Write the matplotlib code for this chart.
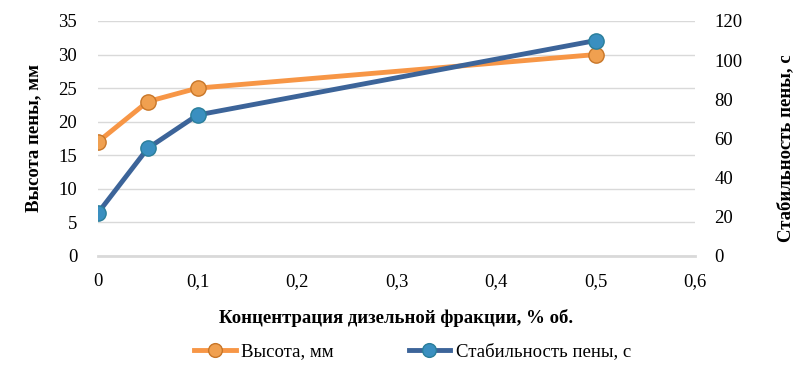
import matplotlib.pyplot as plt
import matplotlib.ticker as mticker

# data
conc = [0, 0.05, 0.1, 0.5]
height = [17, 23, 25, 30]
stability = [22, 55, 72, 110]

plt.rcParams['font.family'] = ['Liberation Serif', 'DejaVu Serif']

fig = plt.figure(figsize=(8.09, 3.78), dpi=100)
ax = fig.add_axes([98 / 809, 1 - 256 / 378, (695 - 98) / 809, (256 - 21) / 378])
ax2 = ax.twinx()

orange = '#F79646'
blue = '#3C6499'

l1, = ax.plot(conc, height, color=orange, lw=3.5, marker='o', ms=11,
              mfc='#F0A050', mec='#C87628', mew=1, zorder=3, label='Высота, мм')
l2, = ax2.plot(conc, stability, color=blue, lw=3.5, marker='o', ms=11,
               mfc='#3A8FC0', mec='#2A7E9A', mew=1, zorder=3, label='Стабильность пены, с')

ax.set_xlim(0, 0.6)
ax.set_ylim(0, 35)
ax2.set_ylim(0, 120)
ax.set_xticks([0, 0.1, 0.2, 0.3, 0.4, 0.5, 0.6])
ax.set_yticks(range(0, 36, 5))
ax2.set_yticks(range(0, 121, 20))
ax.xaxis.set_major_formatter(mticker.FuncFormatter(
    lambda v, p: '0' if v == 0 else ('%g' % round(v, 1)).replace('.', ',')))

ax.grid(axis='y', color='#D9D9D9', lw=1)
ax.set_axisbelow(True)
for a in (ax, ax2):
    for s in a.spines.values():
        s.set_visible(False)
    a.tick_params(length=0, labelsize=13.5)
ax.spines['bottom'].set_visible(True)
ax.spines['bottom'].set_color('#D9D9D9')
ax.spines['bottom'].set_linewidth(2)
ax.tick_params(axis='x', pad=12)
ax.tick_params(axis='y', pad=15)
ax2.tick_params(axis='y', pad=14)

ax.set_xlabel('Концентрация дизельной фракции, % об.', fontsize=13.5,
              fontweight='bold', labelpad=14)
ax.set_ylabel('Высота пены, мм', fontsize=13.5, fontweight='bold', labelpad=12)
ax2.set_ylabel('Стабильность пены, с', fontsize=13.5, fontweight='bold')
ax2.yaxis.set_label_coords(1.138, 0.46)

fig.legend(handles=[l1, l2], loc='center', bbox_to_anchor=(0.51, 1 - 352 / 378),
           ncol=2, frameon=False, fontsize=13.5, columnspacing=4.0,
           handlelength=2.2, handletextpad=0.3, markerscale=0.9)

fig.savefig('out.png', dpi=100)
